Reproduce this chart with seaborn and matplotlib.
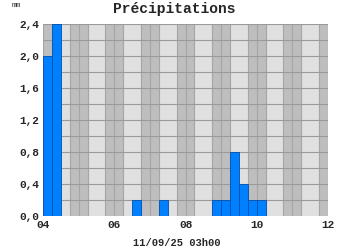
import numpy as np
import pandas as pd
import matplotlib
matplotlib.use("Agg")
import matplotlib.pyplot as plt
import seaborn as sns

# Data: start time of each 15-min interval (hours) and precipitation (mm)
start_hours = [4.00, 4.25, 6.50, 7.25, 8.75, 9.00, 9.25, 9.50, 9.75, 10.00]
precip_mm = [2.0, 2.4, 0.2, 0.2, 0.2, 0.2, 0.8, 0.4, 0.2, 0.2]
x_ticks = [4, 6, 8, 10, 12]
x_tick_labels = ["04", "06", "08", "10", "12"]
y_ticks = [0.0, 0.4, 0.8, 1.2, 1.6, 2.0, 2.4]
y_tick_labels = ["0,0", "0,4", "0,8", "1,2", "1,6", "2,0", "2,4"]
title = "Précipitations"
unit = "mm"
xlabel = "11/09/25 03h00"

sns.set_style("white")
plt.rcParams["font.family"] = ["Liberation Mono", "DejaVu Sans Mono"]

fig = plt.figure(figsize=(3.5, 2.5), dpi=100)
ax = fig.add_axes([0.123, 0.136, 0.814, 0.768])

step = 0.25
df = pd.DataFrame({"t": np.array(start_hours) + step / 2, "mm": precip_mm})

# background bands
ax.set_facecolor("#E0E0E0")
for h in range(4, 13):
    ax.axvspan(h - 0.25, h + 0.25, color="#BEBEBE", zorder=0, lw=0)
for h in range(4, 13):
    for off in (-0.25, 0.0, 0.25):
        ax.axvline(h + off, color="#A6A6A6", lw=0.8, zorder=0.5)
for y in np.arange(0.2, 2.41, 0.2):
    ax.axhline(y, color="#9A9A9A", lw=0.8, zorder=0.5)

sns.histplot(data=df, x="t", weights="mm", binwidth=step, binrange=(4, 12),
             color="#0080FF", edgecolor="#0050B0", linewidth=0.6, alpha=1.0,
             ax=ax, zorder=2)

ax.set_xlim(4, 12)
ax.set_ylim(0, 2.4)
ax.set_xticks(x_ticks)
ax.set_xticklabels(x_tick_labels)
ax.set_yticks(y_ticks)
ax.set_yticklabels(y_tick_labels)
ax.tick_params(length=0, labelsize=8, pad=3)
for lab in ax.get_xticklabels() + ax.get_yticklabels():
    lab.set_fontweight("bold")
ax.set_xlabel("")
ax.set_ylabel("")
for s in ax.spines.values():
    s.set_visible(False)

fig.text(0.499, 0.966, title, ha="center", va="center", fontsize=10.5, fontweight="bold")
fig.text(0.046, 0.978, unit, ha="center", va="center", fontsize=5.5, color="#333333")
fig.text(0.506, 0.028, xlabel, ha="center", va="center", fontsize=7.5, fontweight="bold")

fig.savefig("out.png", dpi=100)
